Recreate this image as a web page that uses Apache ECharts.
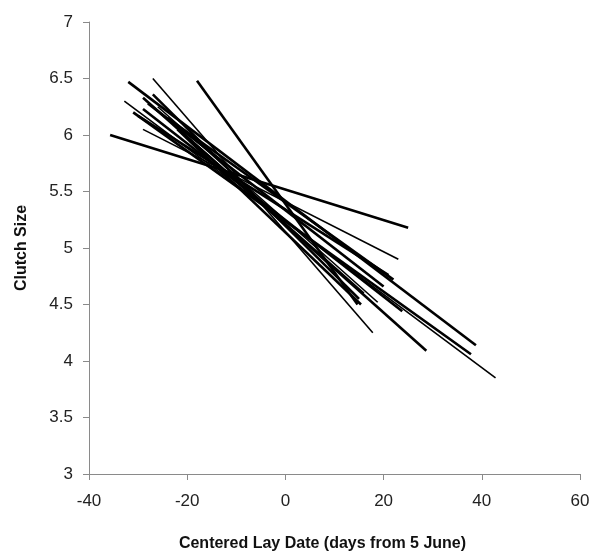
<!DOCTYPE html>
<html lang="en">
<head>
    <meta charset="UTF-8">
    <title>Clutch size vs lay date</title>
    <script src="https://cdn.jsdelivr.net/npm/echarts@6/dist/echarts.min.js"></script>
    <style>
        html, body { margin: 0; padding: 0; background: #fff; }
    </style>
</head>
<body>
<div id="main" style="width: 593px; height: 557px;"></div>

<script>
    // each regression line: start point and end point (days, clutch size)
    var startX = [-35.7, -32, -27, -18, -32.8, -31, -29, -29, -29, -26, -24, -22, -28, -25, -30, -27];
    var startY = [6.00, 6.47, 6.50, 6.48, 6.30, 6.20, 6.05, 6.23, 6.33, 6.25, 6.15, 6.05, 6.28, 6.18, 6.17, 6.36];
    var endX = [25, 38.8, 17.8, 14.7, 42.8, 37.8, 23, 23.8, 28.7, 18.8, 22, 15.4, 20, 16, 21, 15];
    var endY = [5.18, 4.14, 4.25, 4.50, 3.85, 4.06, 4.90, 4.44, 4.09, 4.52, 4.72, 4.50, 4.66, 4.60, 4.76, 4.55];

    var xTicks = [-40, -20, 0, 20, 40, 60];
    var yTicks = [3, 3.5, 4, 4.5, 5, 5.5, 6, 6.5, 7];

    // the thinner lines in the picture
    var thin = [2, 4, 6, 9, 13];

    var myChart = echarts.init(document.getElementById('main'));

    var series = [];
    for (var i = 0; i < startX.length; i++) {
        series.push({
            type: 'line',
            showSymbol: false,
            silent: true,
            lineStyle: {
                color: '#000',
                width: thin.indexOf(i) >= 0 ? 1.6 : 2.6
            },
            data: [[startX[i], startY[i]], [endX[i], endY[i]]]
        });
    }

    var option = {
        animation: false,
        grid: {
            left: 89,
            right: 13,
            top: 22,
            bottom: 79
        },
        xAxis: {
            type: 'value',
            min: xTicks[0],
            max: xTicks[xTicks.length - 1],
            interval: 20,
            name: 'Centered Lay Date (days from 5 June)',
            nameLocation: 'middle',
            nameGap: 62,
            nameTextStyle: {
                fontFamily: 'Liberation Sans',
                fontWeight: 'bold',
                fontSize: 16,
                color: '#111',
                padding: [0, 24, 0, 0]
            },
            axisLine: { show: true, onZero: false, lineStyle: { color: '#8a8a8a', width: 1 } },
            axisTick: { show: true, length: 6, lineStyle: { color: '#8a8a8a' } },
            splitLine: { show: false },
            axisLabel: {
                fontFamily: 'Liberation Sans',
                fontSize: 17,
                color: '#222',
                margin: 19
            }
        },
        yAxis: {
            type: 'value',
            min: yTicks[0],
            max: yTicks[yTicks.length - 1],
            interval: 0.5,
            name: 'Clutch Size',
            nameLocation: 'middle',
            nameGap: 59,
            nameTextStyle: {
                fontFamily: 'Liberation Sans',
                fontWeight: 'bold',
                fontSize: 16,
                color: '#111'
            },
            axisLine: { show: true, onZero: false, lineStyle: { color: '#8a8a8a', width: 1 } },
            axisTick: { show: true, length: 6, lineStyle: { color: '#8a8a8a' } },
            splitLine: { show: false },
            axisLabel: {
                fontFamily: 'Liberation Sans',
                fontSize: 17,
                color: '#222',
                margin: 16
            }
        },
        series: series
    };

    myChart.setOption(option);
</script>
</body>
</html>
